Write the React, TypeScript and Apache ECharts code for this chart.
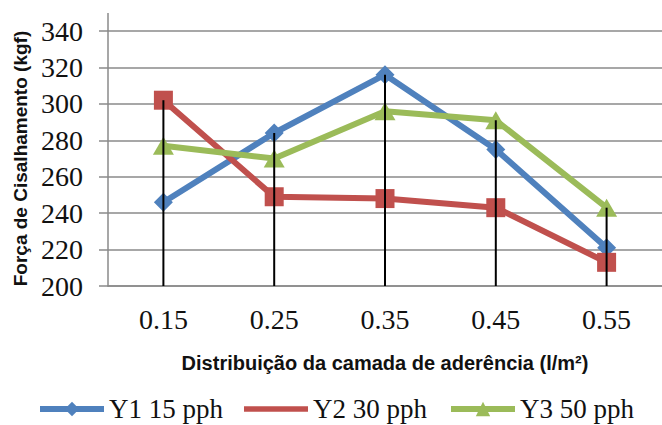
import React, { useEffect, useRef } from "react";
import * as echarts from "echarts";

const categories = ["0.15", "0.25", "0.35", "0.45", "0.55"];
const y1 = [246, 284, 316, 275, 221];
const y2 = [302, 249, 248, 243, 213];
const y3 = [277, 270, 296, 291, 243];
const seriesNames = ["Y1 15 pph", "Y2 30 pph", "Y3 50 pph"];
const yTicks = { min: 200, max: 340, interval: 20 };

export default function App() {
  const ref = useRef<HTMLDivElement>(null);
  useEffect(() => {
    document.body.style.margin = "0";
    const chart = echarts.init(ref.current!, null, { renderer: "svg" });
    const dropData = categories.map((_, i) => [i, Math.max(y1[i], y2[i], y3[i])]);
    const serif = "'Liberation Serif', 'Times New Roman', serif";
    const sans = "'Liberation Sans', Arial, sans-serif";
    chart.setOption({
      animation: false,
      grid: { left: 108, top: 31, bottom: 139, right: -8.5 },
      graphic: [
        {
          type: "line",
          shape: { x1: 108, y1: 13, x2: 108, y2: 31 },
          style: { stroke: "#8a8a8a", lineWidth: 1.5 },
        },
      ],
      legend: {
        data: [
          { name: seriesNames[0] },
          { name: seriesNames[1], icon: "path://M0,0H13V1.1H0Z" },
          { name: seriesNames[2] },
        ],
        left: 37,
        top: 394,
        padding: 0,
        itemWidth: 64,
        itemHeight: 18,
        itemGap: 21,
        lineStyle: { width: 6 },
        textStyle: { fontFamily: serif, fontSize: 27, color: "#111", lineHeight: 30 },
      },
      xAxis: {
        type: "category",
        data: categories,
        boundaryGap: true,
        name: "Distribuição da camada de aderência (l/m²)",
        nameLocation: "middle",
        nameGap: 67,
        nameTextStyle: { fontFamily: sans, fontWeight: "bold", fontSize: 20, color: "#111" },
        axisLine: { show: true, lineStyle: { color: "#8a8a8a", width: 1.5 } },
        axisTick: { show: false },
        axisLabel: { fontFamily: serif, fontSize: 28, color: "#111", margin: 19 },
      },
      yAxis: {
        type: "value",
        min: yTicks.min,
        max: yTicks.max,
        interval: yTicks.interval,
        name: "Força de Cisalhamento (kgf)",
        nameLocation: "middle",
        nameGap: 78,
        nameTextStyle: { fontFamily: sans, fontWeight: "bold", fontSize: 19, color: "#111" },
        axisLine: { show: true, lineStyle: { color: "#8a8a8a", width: 1.5 } },
        axisTick: { show: true, inside: false, length: 9, lineStyle: { color: "#8a8a8a", width: 1.5 } },
        axisLabel: { fontFamily: serif, fontSize: 28, color: "#111", margin: 25 },
        splitLine: { show: true, lineStyle: { color: "#8a8a8a", width: 1.5 } },
      },
      series: [
        {
          name: seriesNames[0],
          type: "line",
          data: y1,
          symbol: "diamond",
          symbolSize: 19,
          lineStyle: { color: "#4F81BD", width: 6 },
          itemStyle: { color: "#4F81BD", borderWidth: 0 },
          z: 2,
        },
        {
          name: seriesNames[1],
          type: "line",
          data: y2,
          symbol: "rect",
          symbolSize: 19,
          lineStyle: { color: "#C0504D", width: 6 },
          itemStyle: { color: "#C0504D", borderWidth: 0 },
          z: 2,
        },
        {
          name: seriesNames[2],
          type: "line",
          data: y3,
          symbol: "triangle",
          symbolSize: [21, 18],
          lineStyle: { color: "#9BBB59", width: 6 },
          itemStyle: { color: "#9BBB59", borderWidth: 0 },
          z: 2,
        },
        {
          name: "drop",
          type: "custom",
          z: 5,
          silent: true,
          data: dropData,
          renderItem: (params: any, api: any) => {
            const top = api.coord([api.value(0), api.value(1)]);
            const bot = api.coord([api.value(0), yTicks.min]);
            return {
              type: "line",
              shape: { x1: top[0], y1: top[1], x2: bot[0], y2: bot[1] },
              style: { stroke: "#000", lineWidth: 2 },
            };
          },
        },
      ],
    });
    return () => chart.dispose();
  }, []);
  return <div ref={ref} style={{ width: 662, height: 425 }} />;
}
